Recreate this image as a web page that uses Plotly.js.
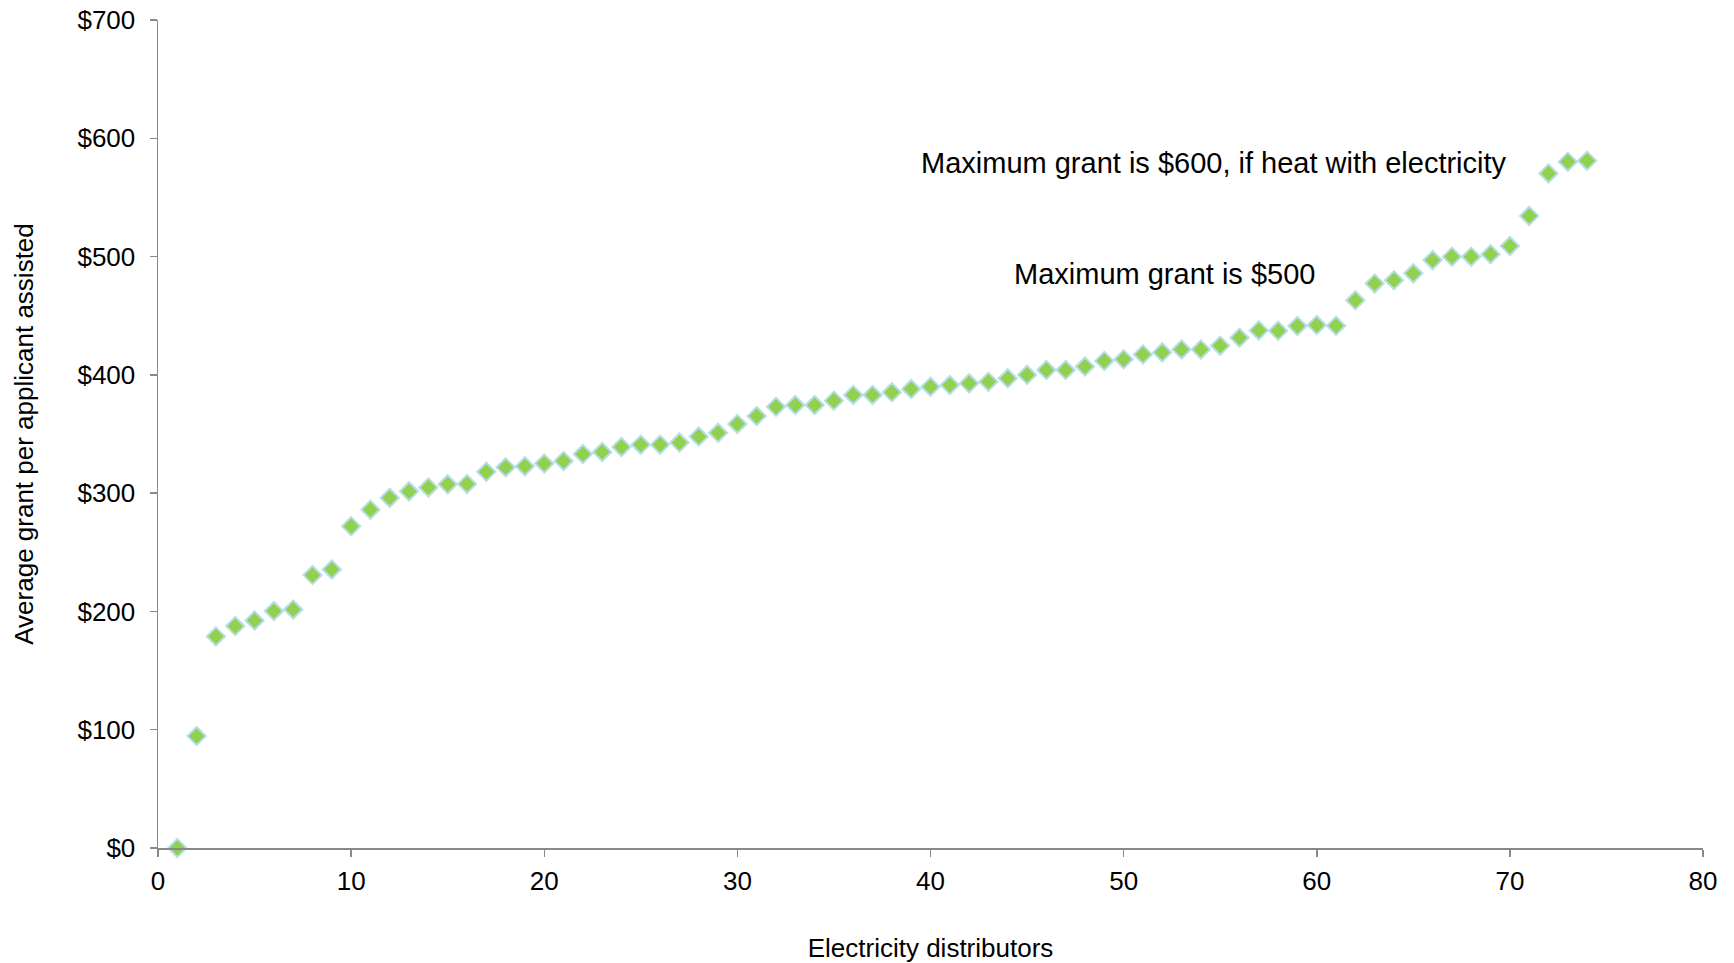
<!DOCTYPE html>
<html>
<head>
<meta charset="utf-8">
<script src="https://cdn.plot.ly/plotly-3.0.1.min.js"></script>
<style>html,body{margin:0;padding:0;background:#fff;}#chart{width:1734px;height:963px;}</style>
</head>
<body>
<div id="chart"></div>
<script>
// Distributor rank (x) and average grant per applicant assisted (y, $)
const distributors = [];
for (let i = 1; i <= 74; i++) distributors.push(i);
const avgGrant = [
  0, 94.6, 178.9, 187.6, 192.4, 200.3, 201.7, 230.7, 235.5, 272,
  286, 296, 301.5, 304.8, 307.5, 307.8, 318, 321.8, 322.8, 325,
  327.2, 333, 334.8, 339, 341, 341, 342.8, 347.8, 351, 358.5,
  365.2, 373, 374.5, 374.5, 378.2, 383, 383, 385.2, 388, 390,
  391.4, 392.8, 394.2, 397.1, 400, 404.1, 404.1, 407, 411.8, 413.2,
  417.3, 419, 421.5, 421.5, 424.7, 431.4, 437.6, 437.3, 441.3, 442.1,
  441.5, 463, 477.3, 480, 485.8, 497, 499.9, 499.9, 502, 508.9,
  534.4, 570.3, 580.2, 581.1
];
const xTickVals = [0, 10, 20, 30, 40, 50, 60, 70, 80];
const yTickVals = [0, 100, 200, 300, 400, 500, 600, 700];
const notes = [
  {text: 'Maximum grant is $600, if heat with electricity', x: 54.7, y: 579},
  {text: 'Maximum grant is $500', x: 52.1, y: 485}
];

const FONT = 'Liberation Sans, Arial, sans-serif';
const AXIS_COLOR = '#898989';

const trace = {
  type: 'scatter',
  mode: 'markers',
  x: distributors,
  y: avgGrant,
  cliponaxis: false,
  marker: {
    symbol: 'diamond',
    size: 14,
    color: '#92D050',
    line: {color: '#B7DEE8', width: 2}
  },
  hoverinfo: 'x+y'
};

const layout = {
  width: 1734,
  height: 963,
  paper_bgcolor: '#ffffff',
  plot_bgcolor: '#ffffff',
  margin: {l: 158, r: 31, t: 20, b: 115},
  showlegend: false,
  font: {family: FONT, color: '#000000', size: 26},
  xaxis: {
    range: [0, 80],
    tickvals: xTickVals,
    ticktext: xTickVals.map(String),
    showgrid: false,
    zeroline: false,
    showline: true,
    linecolor: AXIS_COLOR,
    linewidth: 1.5,
    ticks: 'outside',
    ticklen: 7,
    tickwidth: 1.5,
    tickcolor: AXIS_COLOR,
    ticklabelstandoff: 2,
    tickfont: {family: FONT, size: 26, color: '#000'},
    title: {text: 'Electricity distributors', font: {family: FONT, size: 26, color: '#000'}, standoff: 44}
  },
  yaxis: {
    range: [0, 700],
    tickvals: yTickVals,
    ticktext: yTickVals.map(v => '$' + v),
    showgrid: false,
    zeroline: false,
    showline: true,
    linecolor: AXIS_COLOR,
    linewidth: 1.5,
    ticks: 'outside',
    ticklen: 7,
    tickwidth: 1.5,
    tickcolor: AXIS_COLOR,
    ticklabelstandoff: 9,
    tickfont: {family: FONT, size: 26, color: '#000'},
    title: {text: 'Average grant per applicant assisted', font: {family: FONT, size: 26, color: '#000'}, standoff: 36}
  },
  annotations: notes.map(n => ({
    text: n.text, x: n.x, y: n.y, xref: 'x', yref: 'y',
    showarrow: false, font: {family: FONT, size: 29, color: '#000'}
  }))
};

Plotly.newPlot('chart', [trace], layout, {displayModeBar: false, staticPlot: true});
</script>
</body>
</html>
